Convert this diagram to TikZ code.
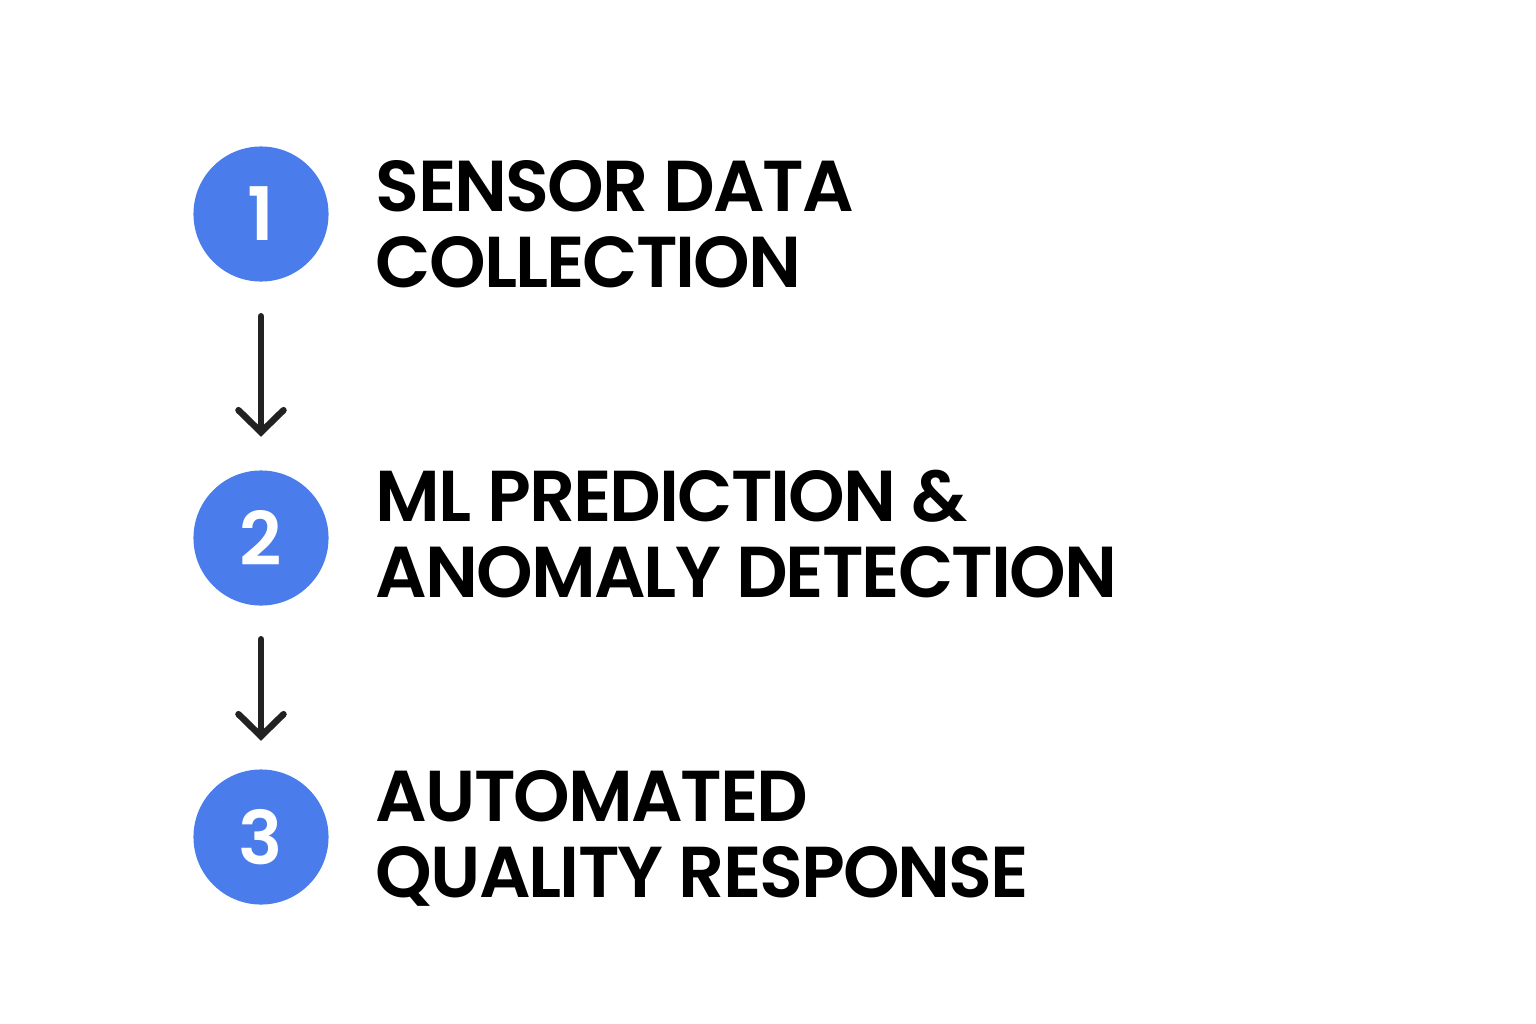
\documentclass[tikz,border=0pt]{standalone}
\usepackage{fontspec}
\setmainfont{Poppins}[BoldFont={Poppins SemiBold}]
\usetikzlibrary{positioning,arrows.meta}
\definecolor{kreisblau}{HTML}{4A7DEB}
\definecolor{pfeilgrau}{HTML}{222222}
\begin{document}
\begin{tikzpicture}[x=0.01cm, y=-0.01cm,
    schritt/.style={circle, fill=kreisblau, minimum size=1.35cm, inner sep=0pt,
      text=white, font=\fontsize{21}{21}\selectfont\bfseries},
    titel/.style={anchor=west, align=left, inner sep=0pt,
      font=\fontsize{20.5}{21.6}\selectfont\bfseries\addfontfeatures{LetterSpace=-2.7}},
    pfeil/.style={-{Straight Barb[length=0.22cm, width=0.45cm, line cap=round]},
      line width=0.065cm, color=pfeilgrau, line cap=round}]
    % Rahmen
    \useasboundingbox (0,0) rectangle (1536,1024);
    % Kreise
    \node[schritt] (s1) at (261,214) {1};
    \node[schritt] (s2) at (261,538) {2};
    \node[schritt] (s3) at (261,837) {3};
    % Texte
    \node[titel, right=0.46cm of s1, yshift=-0.1cm] (t1) {SENSOR DATA\\COLLECTION};
    \node[titel, right=0.46cm of s2, yshift=0.04cm] (t2) {ML PREDICTION \&\\ANOMALY DETECTION};
    \node[titel, right=0.46cm of s3, yshift=-0.01cm] (t3) {AUTOMATED\\QUALITY RESPONSE};
    % Pfeile
    \draw[pfeil] ([yshift=-0.34cm]s1.south) -- ([yshift=0.33cm]s2.north);
    \draw[pfeil] ([yshift=-0.33cm]s2.south) -- ([yshift=0.28cm]s3.north);
\end{tikzpicture}
\end{document}
